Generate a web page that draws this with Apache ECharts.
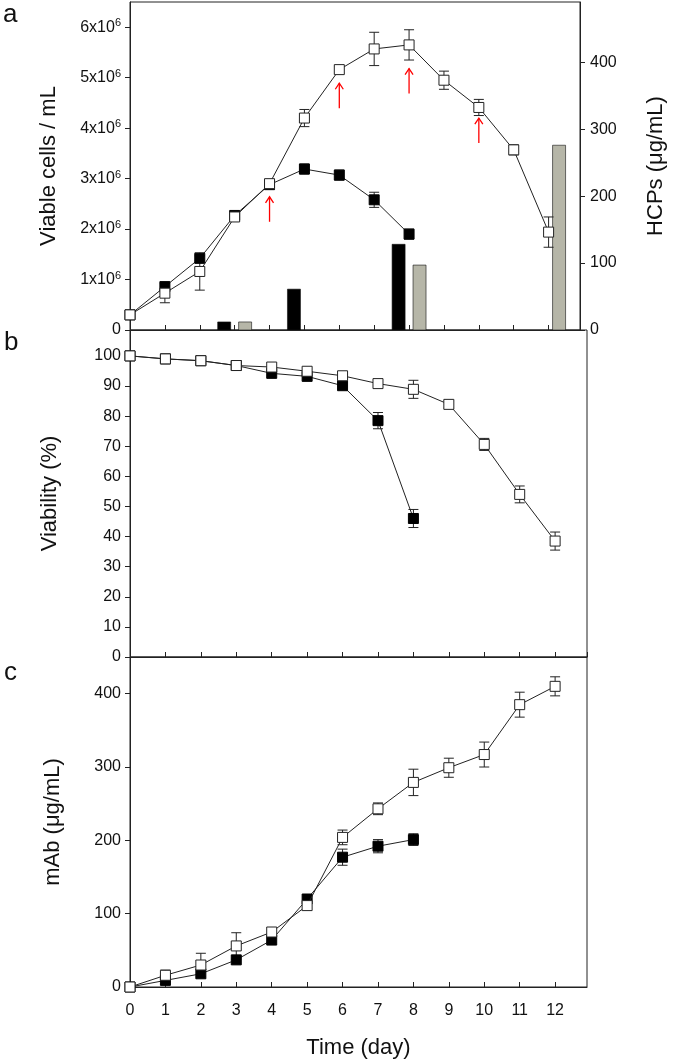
<!DOCTYPE html>
<html lang="en">
  <head>
    <meta charset="UTF-8">
    <title>Cell culture</title>
    <style>
      html, body { margin: 0; padding: 0; background: #fff; }
      .chart { width: 675px; height: 1062px; }
    </style>
  </head>
  <body>
    <div id="chart" class="chart"></div>
    <script src="https://cdn.jsdelivr.net/npm/echarts@6/dist/echarts.min.js"></script>
    <script type="text/javascript">
      // days of culture
      var days = [0, 1, 2, 3, 4, 5, 6, 7, 8, 9, 10, 11, 12];
      var filledDays = [0, 1, 2, 3, 4, 5, 6, 7, 8];

      // a: viable cells / mL
      var cellsOpen = [0.30e6, 0.73e6, 1.16e6, 2.24e6, 2.90e6, 4.20e6, 5.16e6, 5.57e6, 5.65e6, 4.95e6, 4.41e6, 3.57e6, 1.94e6];
      var cellsOpenErr = [0, 0.19e6, 0.37e6, 0.05e6, 0.05e6, 0.17e6, 0.07e6, 0.33e6, 0.30e6, 0.18e6, 0.16e6, 0.10e6, 0.30e6];
      var cellsFilled = [0.30e6, 0.86e6, 1.42e6, 2.27e6, 2.88e6, 3.19e6, 3.07e6, 2.58e6, 1.90e6];
      var cellsFilledErr = [0, 0, 0.05e6, 0, 0, 0.10e6, 0.10e6, 0.15e6, 0.10e6];

      // a: HCPs (ug/mL) bars
      var hcpFilledDays = [3, 5, 8];
      var hcpFilled = [12, 61, 128];
      var hcpOpenDays = [3, 8, 12];
      var hcpOpen = [12, 97, 276];

      // a: red arrows (day, tip level in cells / mL)
      var arrowDays = [4, 6, 8, 10];
      var arrowTips = [2.64e6, 4.89e6, 5.18e6, 4.20e6];

      // b: viability (%)
      var viabOpen = [100, 99.0, 98.4, 96.8, 96.3, 94.9, 93.4, 90.8, 88.9, 83.9, 70.6, 54.0, 38.5];
      var viabOpenErr = [0, 0, 0, 0, 0, 0, 0, 0.6, 3.0, 1.2, 2.0, 2.8, 3.0];
      var viabFilled = [100, 99.0, 98.4, 96.8, 94.2, 93.2, 90.1, 78.5, 46.0];
      var viabFilledErr = [0, 0, 0, 0, 0, 0, 0, 2.7, 3.0];

      // c: mAb (ug/mL)
      var mabOpen = [0, 16, 30, 56, 75, 111, 204, 243, 279, 299, 317, 385, 410];
      var mabOpenErr = [0, 7, 16, 18, 0, 0, 10, 8, 18, 13, 17, 17, 13];
      var mabFilled = [0, 9, 18, 37, 64, 120, 177, 192, 201];
      var mabFilledErr = [0, 0, 0, 0, 0, 0, 11, 9, 8];

      var ink = '#222';
      var font = 'Liberation Sans, Arial, sans-serif';

      function pairs(xs, ys) {
        return xs.map(function (x, i) { return [x, ys[i]]; });
      }

      function errData(xs, ys, es) {
        var out = [];
        xs.forEach(function (x, i) {
          if (es[i] > 0) out.push([x, ys[i] - es[i], ys[i] + es[i]]);
        });
        return out;
      }

      function errSeries(g, xs, ys, es) {
        return {
          type: 'custom',
          xAxisIndex: g, yAxisIndex: g === 0 ? 0 : g + 1,
          z: 1,
          data: errData(xs, ys, es),
          renderItem: function (params, api) {
            var lo = api.coord([api.value(0), api.value(1)]);
            var hi = api.coord([api.value(0), api.value(2)]);
            var st = { stroke: ink, lineWidth: 1 };
            return {
              type: 'group',
              children: [
                { type: 'line', shape: { x1: lo[0], y1: lo[1], x2: hi[0], y2: hi[1] }, style: st },
                { type: 'line', shape: { x1: lo[0] - 5, y1: lo[1], x2: lo[0] + 5, y2: lo[1] }, style: st },
                { type: 'line', shape: { x1: hi[0] - 5, y1: hi[1], x2: hi[0] + 5, y2: hi[1] }, style: st }
              ]
            };
          }
        };
      }

      function lineSeries(g, xs, ys, open) {
        return {
          type: 'line',
          xAxisIndex: g, yAxisIndex: g === 0 ? 0 : g + 1,
          z: open ? 4 : 3,
          data: pairs(xs, ys),
          symbol: 'rect',
          symbolSize: 10,
          showAllSymbol: true,
          animation: false,
          lineStyle: { color: ink, width: 1 },
          itemStyle: open ? { color: '#fff', borderColor: ink, borderWidth: 1 } : { color: '#000', borderColor: '#000', borderWidth: 1 }
        };
      }

      // bars offset left (filled) / right (open) of the day
      function barSeries(xs, ys, shift, fill) {
        return {
          type: 'custom',
          xAxisIndex: 0, yAxisIndex: 1,
          z: 0,
          data: pairs(xs, ys),
          renderItem: function (params, api) {
            var top = api.coord([api.value(0) + shift, api.value(1)]);
            var base = api.coord([api.value(0) + shift, 0]);
            return {
              type: 'rect',
              shape: { x: top[0] - 6.5, y: top[1], width: 13, height: base[1] - top[1] },
              style: { fill: fill, stroke: '#111', lineWidth: 0.6 }
            };
          }
        };
      }

      var arrowSeries = {
        type: 'custom',
        xAxisIndex: 0, yAxisIndex: 0,
        z: 5,
        data: pairs(arrowDays, arrowTips),
        renderItem: function (params, api) {
          var p = api.coord([api.value(0), api.value(1)]);
          var st = { stroke: '#ff0000', lineWidth: 1.3, fill: null };
          return {
            type: 'group',
            children: [
              { type: 'line', shape: { x1: p[0], y1: p[1], x2: p[0], y2: p[1] + 25 }, style: st },
              { type: 'polyline', shape: { points: [[p[0] - 4, p[1] + 6], [p[0], p[1]], [p[0] + 4, p[1] + 6]] }, style: st }
            ]
          };
        }
      };

      var grids = [
        { left: 130, right: 88, top: 2, height: 328 },
        { left: 130, right: 88, top: 330, height: 327 },
        { left: 130, right: 88, top: 657, height: 330 }
      ].map(function (g) {
        g.show = true; g.borderColor = ink; g.borderWidth = 1; g.backgroundColor = 'transparent';
        return g;
      });

      var xAxes = [0, 1, 2].map(function (i) {
        return {
          gridIndex: i, type: 'value', min: 0, max: 12.9, interval: 1,
          axisLine: { show: true, lineStyle: { color: ink } },
          axisTick: { show: true, inside: true, length: 5, lineStyle: { color: ink } },
          axisLabel: { show: i === 2, showMaxLabel: false, margin: 16, color: '#111', fontSize: 16, fontFamily: font },
          splitLine: { show: false },
          name: i === 2 ? 'Time (day)' : '',
          nameLocation: 'middle', nameGap: 50,
          nameTextStyle: { color: '#111', fontSize: 22, fontFamily: font }
        };
      });

      function yAxis(g, name, max, interval, extra) {
        var ax = {
          gridIndex: g, type: 'value', min: 0, max: max, interval: interval,
          axisLine: { show: true, lineStyle: { color: ink } },
          axisTick: { show: true, inside: false, length: 5, lineStyle: { color: ink } },
          axisLabel: { showMaxLabel: false, margin: 9, color: '#111', fontSize: 16, fontFamily: font },
          splitLine: { show: false },
          name: name, nameLocation: 'middle', nameGap: 70,
          nameTextStyle: { color: '#111', fontSize: 22, fontFamily: font }
        };
        for (var k in extra) ax[k] = extra[k];
        return ax;
      }

      var yAxes = [
        yAxis(0, 'Viable cells / mL', 6.5e6, 1e6, {
          axisLabel: {
            showMaxLabel: false, margin: 9, color: '#111', fontSize: 16, fontFamily: font,
            formatter: function (v) { return v === 0 ? '0' : '{n|' + (v / 1e6) + 'x10}{s|6}'; },
            rich: {
              n: { fontSize: 16, fontFamily: font, color: '#111' },
              s: { fontSize: 11, fontFamily: font, color: '#111', verticalAlign: 'top', padding: [0, 0, 8, 0] }
            }
          }
        }),
        yAxis(0, 'HCPs (\u03bcg/mL)', 490, 100, { position: 'right', nameGap: 65, axisLabel: { showMaxLabel: false, margin: 10, color: '#111', fontSize: 16, fontFamily: font } }),
        yAxis(1, 'Viability (%)', 108.6, 10, { nameGap: 69 }),
        yAxis(2, 'mAb (\u03bcg/mL)', 450, 100, { nameGap: 66 })
      ];

      var series = [
        barSeries(hcpFilledDays, hcpFilled, -0.3, '#000'),
        barSeries(hcpOpenDays, hcpOpen, 0.3, '#b6b6a8'),
        errSeries(0, days, cellsOpen, cellsOpenErr),
        errSeries(0, filledDays, cellsFilled, cellsFilledErr),
        lineSeries(0, filledDays, cellsFilled, false),
        lineSeries(0, days, cellsOpen, true),
        arrowSeries,
        errSeries(1, days, viabOpen, viabOpenErr),
        errSeries(1, filledDays, viabFilled, viabFilledErr),
        lineSeries(1, filledDays, viabFilled, false),
        lineSeries(1, days, viabOpen, true),
        errSeries(2, days, mabOpen, mabOpenErr),
        errSeries(2, filledDays, mabFilled, mabFilledErr),
        lineSeries(2, filledDays, mabFilled, false),
        lineSeries(2, days, mabOpen, true)
      ];

      var letterStyle = { fill: '#111', fontSize: 26, fontFamily: font };
      var chart = echarts.init(document.getElementById('chart'));
      chart.setOption({
        backgroundColor: '#fff',
        animation: false,
        grid: grids,
        xAxis: xAxes,
        yAxis: yAxes,
        series: series,
        graphic: [
          { type: 'text', left: 3, top: 2, style: Object.assign({ text: 'a' }, letterStyle) },
          { type: 'text', left: 4, top: 330, style: Object.assign({ text: 'b' }, letterStyle) },
          { type: 'text', left: 4, top: 660, style: Object.assign({ text: 'c' }, letterStyle) }
        ]
      });
    </script>
  </body>
</html>
